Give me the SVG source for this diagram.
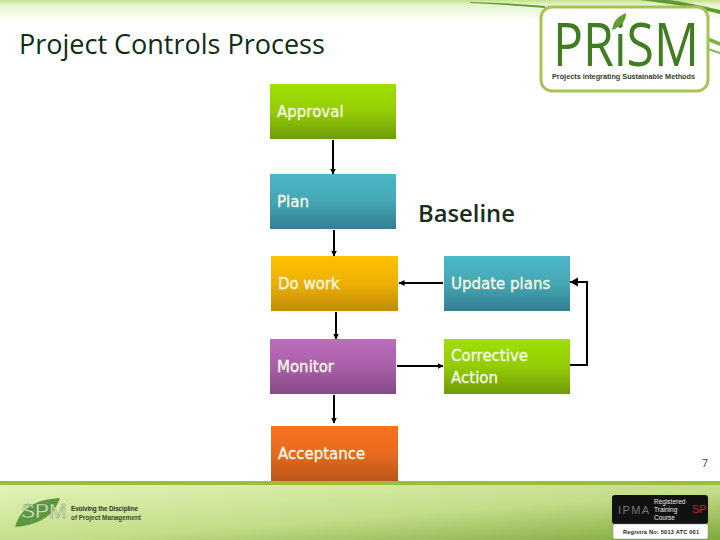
<svg xmlns="http://www.w3.org/2000/svg" width="720" height="540" viewBox="0 0 720 540">
<style>
.n{font-family:"DejaVu Sans",sans-serif;font-size:15px;font-weight:500;fill:#f4f8e0;stroke:#f4f8e0;stroke-width:.35px}
.c{fill:none;stroke:#000;stroke-width:2px}
.s{font-family:"Liberation Sans",sans-serif;font-weight:700}
</style>
<defs>
<linearGradient id="g" x1="0" y1="0" x2="0" y2="1"><stop offset="0" stop-color="#a0de04"/><stop offset=".5" stop-color="#94cc05"/><stop offset="1" stop-color="#6f9a08"/></linearGradient>
<linearGradient id="b" x1="0" y1="0" x2="0" y2="1"><stop offset="0" stop-color="#4bb8c6"/><stop offset=".5" stop-color="#45a6b5"/><stop offset="1" stop-color="#347f90"/></linearGradient>
<linearGradient id="y" x1="0" y1="0" x2="0" y2="1"><stop offset="0" stop-color="#ffc000"/><stop offset=".5" stop-color="#eeb004"/><stop offset="1" stop-color="#bf8a08"/></linearGradient>
<linearGradient id="p" x1="0" y1="0" x2="0" y2="1"><stop offset="0" stop-color="#bc6cbc"/><stop offset=".5" stop-color="#a960a8"/><stop offset="1" stop-color="#834a85"/></linearGradient>
<linearGradient id="o" x1="0" y1="0" x2="0" y2="1"><stop offset="0" stop-color="#f97222"/><stop offset=".5" stop-color="#e66a1e"/><stop offset="1" stop-color="#b9571a"/></linearGradient>
<linearGradient id="top" x1="0" y1="0" x2="0" y2="1"><stop offset="0" stop-color="#c4e08c"/><stop offset=".2" stop-color="#e6f3cc"/><stop offset="1" stop-color="#fff"/></linearGradient>
<linearGradient id="foot" x1="0" y1="0" x2="1" y2="1"><stop offset="0" stop-color="#e2f4b8"/><stop offset=".55" stop-color="#c2dc88"/><stop offset="1" stop-color="#7fa83c"/></linearGradient>
<marker id="a" markerWidth="7" markerHeight="7" refX="5.5" refY="3" orient="auto" markerUnits="userSpaceOnUse"><path d="M0 0L6 3L0 6Z" fill="#000"/></marker>
<marker id="A" markerWidth="10" markerHeight="10" refX="8" refY="4.5" orient="auto" markerUnits="userSpaceOnUse"><path d="M0 0L8 4.5L0 9Z" fill="#000"/></marker>
</defs>
<rect width="720" height="540" fill="#fff"/>
<g id="background">
<rect width="720" height="22" fill="url(#top)"/>
<path d="M470 3Q510 5 545 8L545 6Q510 3 470 2Z" fill="#5f9a35"/>
<path d="M640 0Q690 6 720 14V10Q690 3 670 0Z" fill="#5f9a35"/>
<path d="M705 36L720 42V46L705 40ZM708 48L720 52V54L708 50Z" fill="#7fb247"/>
<rect y="481" width="720" height="4" fill="#9cbc3e"/>
<rect y="485" width="720" height="55" fill="url(#foot)"/>
</g>
<text x="19" y="54" font-family="Open Sans, sans-serif" font-size="27" fill="#0f2d15">Project Controls Process</text>
<g id="prism-logo">
<rect x="541" y="7" width="167" height="84" rx="11" fill="#fff" stroke="#a6c455" stroke-width="3"/>
<text transform="translate(553 66) scale(.82 1)" font-family="Open Sans, sans-serif" font-size="61" fill="#3f7d20">PRiSM</text>
<path d="M612 30Q613 18 626 13Q626 25 612 30Z" fill="#5e9e2e"/>
<text x="552" y="79" class="s" font-size="6.6" textLength="143" lengthAdjust="spacingAndGlyphs" fill="#33402a">Projects integrating Sustainable Methods</text>
</g>
<g id="spm-logo">
<path d="M15 527Q22 500 60 498Q52 524 15 527Z" fill="#5a9a3c"/>
<text x="21" y="518" font-family="Liberation Sans, sans-serif" font-size="21" fill="#dfeeca" stroke="#5c7a50" stroke-width=".4">SPM</text>
<text x="71" y="511" class="s" font-size="6.4" textLength="67" fill="#2a3a1c">Evolving the Discipline</text>
<text x="71" y="520" class="s" font-size="6.4" textLength="70" fill="#3a4a2c">of Project Management</text>
</g>
<g id="ipma-badge">
<rect x="612" y="495" width="96" height="29" rx="3" fill="#111"/>
<rect x="613" y="524" width="95" height="15" rx="2" fill="#fff" stroke="#888" stroke-width=".5"/>
<text x="618" y="514" font-family="Liberation Sans, sans-serif" font-size="11" textLength="31" fill="#777">IPMA</text>
<text x="654" y="504" font-family="Liberation Sans, sans-serif" font-size="6.5" fill="#eee">Registered</text>
<text x="654" y="512" font-family="Liberation Sans, sans-serif" font-size="6.5" fill="#eee">Training</text>
<text x="654" y="520" font-family="Liberation Sans, sans-serif" font-size="6.5" fill="#eee">Course</text>
<text x="692" y="513" font-family="Liberation Sans, sans-serif" font-size="11" fill="#c8281e">SP</text>
<text x="623" y="534" class="s" font-size="5.6" textLength="76" fill="#222">Registra No: 5013 ATC 001</text>
</g>
<g id="node-approval"><rect x="270" y="84" width="126" height="55" fill="url(#g)"/><text class="n" x="277" y="117">Approval</text></g>
<g id="node-plan"><rect x="270" y="174" width="126" height="55" fill="url(#b)"/><text class="n" x="277" y="207">Plan</text></g>
<g id="node-do-work"><rect x="271" y="256" width="127" height="55" fill="url(#y)"/><text class="n" x="278" y="289">Do work</text></g>
<g id="node-monitor"><rect x="270" y="339" width="126" height="55" fill="url(#p)"/><text class="n" x="277" y="372">Monitor</text></g>
<g id="node-acceptance"><rect x="271" y="426" width="127" height="55" fill="url(#o)"/><text class="n" x="278" y="459">Acceptance</text></g>
<g id="node-update-plans"><rect x="444" y="256" width="126" height="55" fill="url(#b)"/><text class="n" x="451" y="289">Update plans</text></g>
<g id="node-corrective-action"><rect x="444" y="339" width="126" height="55" fill="url(#g)"/><text class="n" x="451" y="361">Corrective</text><text class="n" x="451" y="383">Action</text></g>
<text id="baseline" x="418" y="222" font-family="Open Sans, sans-serif" font-size="23.8" font-weight="600" fill="#16301c">Baseline</text>
<g id="connectors">
<path class="c" d="M333 140V174" marker-end="url(#a)"/>
<path class="c" d="M334 230V256" marker-end="url(#a)"/>
<path class="c" d="M336 312V339" marker-end="url(#a)"/>
<path class="c" d="M334 395V423" marker-end="url(#a)"/>
<path class="c" d="M443 283H399" marker-end="url(#a)"/>
<path class="c" d="M397 366H443" marker-end="url(#a)"/>
<path class="c" d="M570 365H587V282H570" marker-end="url(#A)"/>
</g>
<text id="page" x="708" y="467" text-anchor="end" font-family="Open Sans, sans-serif" font-size="11" fill="#444">7</text>
</svg>
